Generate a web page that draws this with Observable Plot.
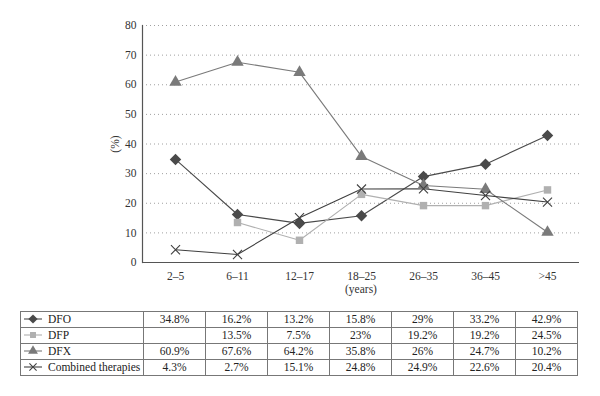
<!DOCTYPE html>
<html>
<head>
<meta charset="utf-8">
<script src="https://cdn.jsdelivr.net/npm/d3@7"></script>
<script src="https://cdn.jsdelivr.net/npm/@observablehq/plot@0.6"></script>
<style>
  html, body { margin: 0; padding: 0; background: #fff; }
  body { width: 600px; height: 396px; position: relative; overflow: hidden; font-family: "Liberation Serif", serif; }
  #chart { position: absolute; left: 0; top: 0; }
  table { position: absolute; left: 20px; top: 311px; border-collapse: collapse; font-family: "Liberation Serif", serif; font-size: 11.5px; color: #222; border: 1.5px solid #222; }
  td { border: 1px solid #777; height: 15px; padding: 0; text-align: center; width: 61px; line-height: 15px; }
  td.name { text-align: left; width: 122px; white-space: nowrap; }
  td.name svg { vertical-align: middle; margin: 0 5px 0 2px; position: relative; top: -1px; }
</style>
</head>
<body>
<div id="chart"></div>
<table id="tbl"></table>
<script>
const categories = ["2–5", "6–11", "12–17", "18–25", "26–35", "36–45", ">45"];
const seriesNames = ["DFO", "DFP", "DFX", "Combined therapies"];
const dfo = [34.8, 16.2, 13.2, 15.8, 29, 33.2, 42.9];
const dfp = [null, 13.5, 7.5, 23, 19.2, 19.2, 24.5];
const dfx = [60.9, 67.6, 64.2, 35.8, 26, 24.7, 10.2];
const combined = [4.3, 2.7, 15.1, 24.8, 24.9, 22.6, 20.4];
const tableLabels = [
  ["34.8%", "16.2%", "13.2%", "15.8%", "29%", "33.2%", "42.9%"],
  ["", "13.5%", "7.5%", "23%", "19.2%", "19.2%", "24.5%"],
  ["60.9%", "67.6%", "64.2%", "35.8%", "26%", "24.7%", "10.2%"],
  ["4.3%", "2.7%", "15.1%", "24.8%", "24.9%", "22.6%", "20.4%"]
];
const yTicks = [0, 10, 20, 30, 40, 50, 60, 70, 80];

const seriesValues = [dfo, dfp, dfx, combined];
const styles = {
  "DFO": {stroke: "#4a4a4a", fill: "#4a4a4a", symbol: "square", r: 4.6, rotate: 45},
  "DFP": {stroke: "#b0b0b0", fill: "#b0b0b0", symbol: "square", r: 4.2, rotate: 0},
  "DFX": {stroke: "#7a7a7a", fill: "#7a7a7a", symbol: "triangle", r: 4.6, rotate: 0},
  "Combined therapies": {stroke: "#404040", fill: "none", symbol: "times", r: 4.2, rotate: 0}
};

const rows = [];
seriesNames.forEach((s, i) => categories.forEach((c, j) => rows.push({series: s, cat: c, value: seriesValues[i][j]})));

const marks = [
  Plot.gridY(yTicks, {stroke: "#a0a0a0", strokeOpacity: 1, strokeDasharray: "1,3"}),
  Plot.axisY(yTicks, {tickSize: 0, tickPadding: 6, fontSize: 11.5, fill: "#333", label: "(%)", labelAnchor: "center", labelArrow: "none", labelOffset: 32}),
  Plot.axisX({tickSize: 0, tickPadding: 9, fontSize: 11.5, fill: "#333", label: "(years)", labelAnchor: "center", labelArrow: "none", labelOffset: 30}),
  Plot.frame({anchor: "left", stroke: "#555", strokeWidth: 1.2}),
  Plot.ruleY([0], {stroke: "#555", strokeWidth: 1.2})
];
for (const s of seriesNames) {
  const d = rows.filter(r => r.series === s);
  const st = styles[s];
  marks.push(Plot.lineY(d, {x: "cat", y: "value", stroke: st.stroke, strokeWidth: 1.1}));
}
for (const s of seriesNames) {
  const d = rows.filter(r => r.series === s && r.value != null);
  const st = styles[s];
  marks.push(Plot.dot(d, {x: "cat", y: "value", symbol: () => st.symbol, r: st.r, rotate: st.rotate,
    fill: st.fill, stroke: st.symbol === "times" ? st.stroke : "none", strokeWidth: 1.1}));
}

const chart = Plot.plot({
  width: 600,
  height: 300,
  marginLeft: 142,
  marginRight: 21,
  marginTop: 25,
  marginBottom: 38,
  style: {fontFamily: "Liberation Serif, serif", fontSize: "11.5px", color: "#333", background: "#fff"},
  x: {type: "point", domain: categories, padding: 0.5},
  y: {domain: [0, 80]},
  symbol: {type: "identity"},
  marks
});
document.getElementById("chart").appendChild(chart);

// table with legend icons
const tbl = d3.select("#tbl");
seriesNames.forEach((s, i) => {
  const tr = tbl.append("tr");
  const td = tr.append("td").attr("class", "name");
  const st = styles[s];
  const svg = td.append("svg").attr("width", 20).attr("height", 12);
  svg.append("line").attr("x1", 1).attr("x2", 19).attr("y1", 6).attr("y2", 6).attr("stroke", st.stroke).attr("stroke-width", 1.1);
  const symMap = {square: d3.symbolSquare, triangle: d3.symbolTriangle, times: d3.symbolTimes};
  const rr = st.r * 0.8;
  const size = rr * rr * Math.PI;
  svg.append("path").attr("d", d3.symbol(symMap[st.symbol], size)())
    .attr("transform", `translate(10,6) rotate(${st.rotate})`)
    .attr("fill", st.fill).attr("stroke", st.symbol === "times" ? st.stroke : "none").attr("stroke-width", 1.1);
  td.append("span").text(s);
  tableLabels[i].forEach(v => tr.append("td").text(v));
});
</script>
</body>
</html>
